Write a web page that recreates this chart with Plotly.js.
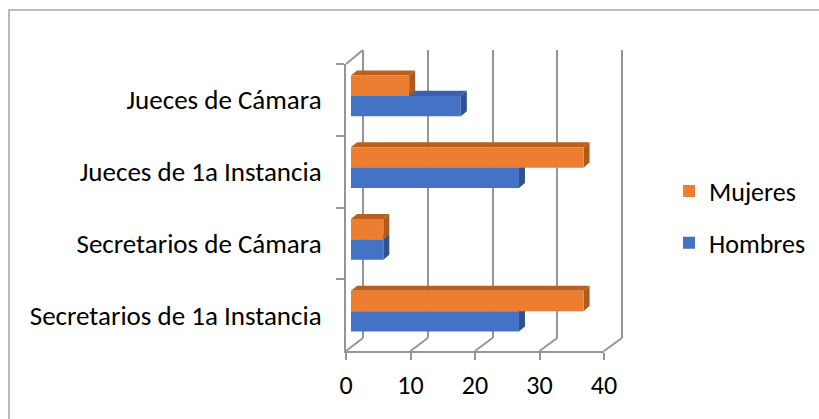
<!DOCTYPE html>
<html>
<head>
<meta charset="utf-8">
<script src="https://cdn.plot.ly/plotly-3.0.1.min.js"></script>
<style>html,body{margin:0;padding:0;background:#fff;}#chart{width:819px;height:419px;}</style>
</head>
<body>
<div id="chart"></div>
<script>
// ---- data ----
const categories = ["Secretarios de 1a Instancia", "Secretarios de Cámara", "Jueces de 1a Instancia", "Jueces de Cámara"];
const hombres = [26, 5, 26, 17];
const mujeres = [36, 5, 36, 9];
const xTicks = [0, 10, 20, 30, 40];
const seriesNames = ["Hombres", "Mujeres"];

// ---- styling ----
const W = 819, H = 419;
const px = p => p / W;
const py = p => 1 - p / H;
const FONT = "Carlito, Lato, 'Liberation Sans', sans-serif";
const blue = "#4472C4", orange = "#ED7D31";
const blueSide = "#2F528F", orangeSide = "#AE5A21";
const blueTop = "#3A62AB", orangeTop = "#B9601F";
const gridCol = "#959595";
const BARGAP = 0.43;
const DX = 0.93, DY = 0.07; // depth offset in data units

const traces = [
  {type: "bar", orientation: "h", name: seriesNames[0], y: categories, x: hombres,
   marker: {color: blue}, xaxis: "x3", yaxis: "y3", legendgroup: "h", legendrank: 2, hoverinfo: "x"},
  {type: "bar", orientation: "h", name: seriesNames[1], y: categories, x: mujeres,
   marker: {color: orange}, xaxis: "x3", yaxis: "y3", legendgroup: "m", legendrank: 1, hoverinfo: "x"}
];

// 3D faces derived from data
const shapes = [];
const thick = (1 - BARGAP) / 2;
function faces(vals, lowerOffset, sideCol, topCol) {
  vals.forEach((v, i) => {
    const b = i + lowerOffset, t = b + thick;
    shapes.push({type: "path", xref: "x3", yref: "y3", layer: "below", line: {width: 0}, fillcolor: topCol,
      path: `M0,${t} L${v},${t} L${v + DX},${t + DY} L${DX},${t + DY} Z`});
    shapes.push({type: "path", xref: "x3", yref: "y3", layer: "below", line: {width: 0}, fillcolor: sideCol,
      path: `M${v},${b} L${v},${t} L${v + DX},${t + DY} L${v + DX},${b + DY} Z`});
  });
}
faces(hombres, -thick, blueSide, blueTop);
faces(mujeres, 0, orangeSide, orangeTop);

// floor / wall edges (paper coordinates computed from tick values)
const fx0 = 346, fx40 = 604, bx0 = 363, bx40 = 622, fyB = 351, byB = 338, fyT = 64, byT = 50;
const bScale = (bx40 - bx0) / 40;
const PAD = 0.5;
xTicks.forEach(v => {
  const f = fx0 + (fx40 - fx0) * v / 40, b = bx0 + bScale * v;
  shapes.push({type: "line", xref: "paper", yref: "paper", layer: "below",
    x0: px(f), y0: py(fyB), x1: px(b), y1: py(byB), line: {color: gridCol, width: 2}});
});
shapes.push({type: "line", xref: "paper", yref: "paper", layer: "below",
  x0: px(fx0), y0: py(fyT), x1: px(bx0), y1: py(byT), line: {color: gridCol, width: 2}});
// chart outer border
shapes.push({type: "rect", xref: "paper", yref: "paper", layer: "below",
  x0: px(9), y0: -0.2, x1: 1.2, y1: py(10), line: {color: "#a6a6a6", width: 1.5}, fillcolor: "rgba(0,0,0,0)"});

const layout = {
  width: W, height: H,
  margin: {l: 0, r: 0, t: 0, b: 0},
  paper_bgcolor: "#ffffff", plot_bgcolor: "rgba(0,0,0,0)",
  font: {family: FONT, size: 26, color: "#000000"},
  barmode: "group", bargap: BARGAP, bargroupgap: 0,
  showlegend: true,
  legend: {x: px(669), xanchor: "left", y: py(217), yanchor: "middle",
    traceorder: "grouped", tracegroupgap: 15,
    font: {family: FONT, size: 26, color: "#000000"}, bgcolor: "rgba(0,0,0,0)"},
  // back wall (gridlines)
  xaxis: {domain: [px(bx0 - PAD * bScale), px(bx40 + PAD * bScale)], range: [-PAD, 40 + PAD], anchor: "y",
    showgrid: true, gridcolor: gridCol, gridwidth: 2,
    tickvals: xTicks, showticklabels: false, ticks: "", zeroline: false, showline: false, fixedrange: true},
  yaxis: {domain: [py(byB), py(byT)], anchor: "x", range: [0, 1], visible: false, fixedrange: true},
  // front axes (ticks & labels)
  xaxis2: {domain: [px(fx0), px(fx40)], range: [0, 40], anchor: "y2", showgrid: false, zeroline: false,
    showline: true, linecolor: gridCol, linewidth: 2, ticks: "outside", ticklen: 7, tickwidth: 2, tickcolor: gridCol,
    tickvals: xTicks, ticktext: xTicks.map(String), tickfont: {family: FONT, size: 26, color: "#000"}, ticklabelstandoff: 3, fixedrange: true},
  yaxis2: {domain: [py(fyB), py(fyT)], anchor: "x2", type: "category", categoryorder: "array", categoryarray: categories,
    range: [-0.5, 3.5], showgrid: false, zeroline: false, showline: true, linecolor: gridCol, linewidth: 2,
    ticks: "outside", tickson: "boundaries", ticklen: 8, tickwidth: 2, tickcolor: gridCol,
    tickfont: {family: FONT, size: 27, color: "#000"}, ticklabelstandoff: 17, fixedrange: true},
  // bars
  xaxis3: {domain: [px(351), px(609.4)], range: [0, 40], anchor: "y3", visible: false, fixedrange: true},
  yaxis3: {domain: [py(347), py(60)], anchor: "x3", type: "category", categoryorder: "array", categoryarray: categories,
    range: [-0.5, 3.5], visible: false, fixedrange: true},
  shapes: shapes
};

// empty traces so the back-wall and front-axes subplots exist
traces.unshift({type: "scatter", x: [], y: [], xaxis: "x2", yaxis: "y2", showlegend: false, hoverinfo: "skip"});
traces.unshift({type: "scatter", x: [], y: [], xaxis: "x", yaxis: "y", showlegend: false, hoverinfo: "skip"});

Plotly.newPlot("chart", traces, layout, {displayModeBar: false, staticPlot: true});
</script>
</body>
</html>
